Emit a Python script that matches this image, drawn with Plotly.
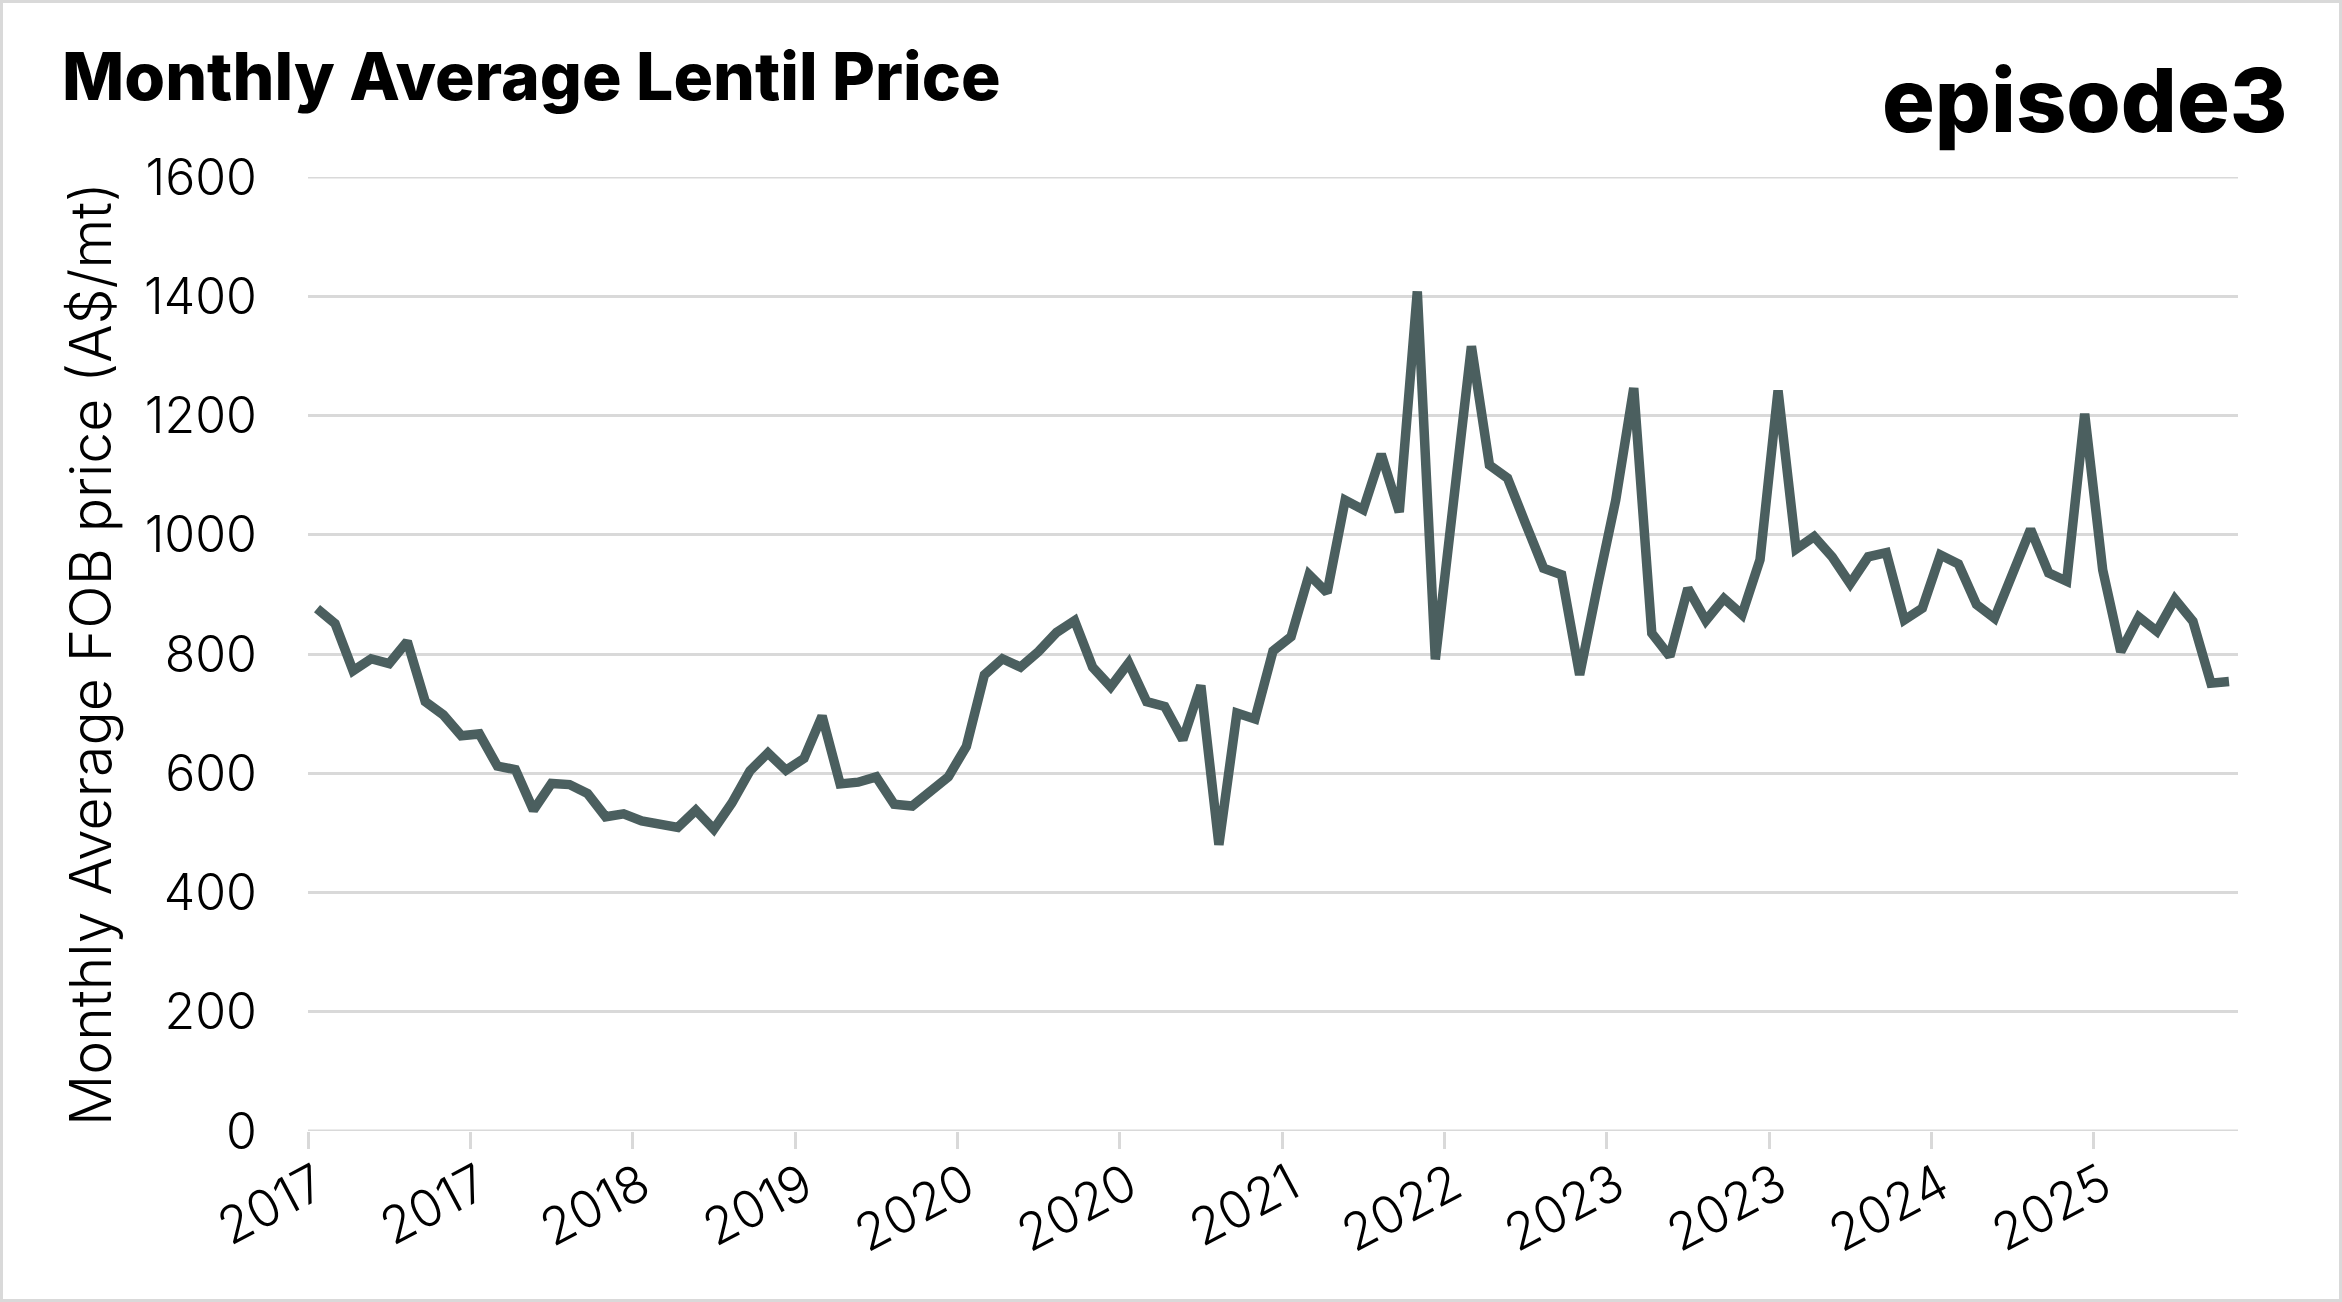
import plotly.graph_objects as go

# Monthly data, Jan 2017 .. Nov 2025 (107 months)
months = [f"{2017 + i // 12}-{i % 12 + 1:02d}" for i in range(107)]
prices = [
    876, 851, 772, 792, 784, 821, 720, 698, 663, 666, 612, 606,   # 2017
    538, 583, 581, 566, 527, 532, 520, 513, 509, 538, 506, 550,   # 2018
    604, 634, 605, 625, 696, 582, 585, 594, 548, 545, 568, 594,   # 2019
    645, 765, 792, 778, 804, 836, 856, 778, 745, 785, 720, 712,   # 2020
    656, 747, 480, 701, 691, 805, 829, 933, 903, 1058, 1042, 1135, # 2021
    1038, 1408, 791, 1053, 1316, 1117, 1095, 1019, 944, 933, 765, 915, # 2022
    1058, 1246, 835, 796, 910, 856, 893, 866, 958, 1242, 976, 997, # 2023
    963, 918, 963, 970, 857, 877, 966, 951, 883, 860, 936, 1009,  # 2024
    936, 922, 1203, 941, 804, 862, 838, 892, 855, 751, 754,       # 2025
]

tick_idx = [0, 9, 18, 27, 36, 45, 54, 63, 72, 81, 90, 99]
tick_labels = ["2017", "2017", "2018", "2019", "2020", "2020",
               "2021", "2022", "2023", "2023", "2024", "2025"]
y_ticks = [0, 200, 400, 600, 800, 1000, 1200, 1400, 1600]

x = list(range(len(prices)))

W, H = 2342, 1302
L, R, T, B = 308, 104, 177, 171
pw, ph = W - L - R, H - T - B

LINE = "#4b5f5f"
GRID = "#d9d9d9"
FONT = "Inter"

fig = go.Figure()
fig.add_trace(go.Scatter(
    x=x, y=prices, customdata=months, mode="lines",
    line=dict(color=LINE, width=9.5),
    hovertemplate="%{customdata}: %{y}<extra></extra>",
))

fig.update_layout(
    width=W, height=H,
    margin=dict(l=L, r=R, t=T, b=B),
    paper_bgcolor="white", plot_bgcolor="white",
    showlegend=False,
    font=dict(family=FONT, color="black", size=50, weight=300),
    title=dict(
        text="Monthly Average Lentil Price",
        font=dict(family=FONT, size=66, weight=800, color="black"),
        x=62 / W, xanchor="left", xref="container",
        y=1 - 77 / H, yanchor="middle", yref="container",
    ),
    xaxis=dict(
        range=[-0.5, len(prices) - 0.5],
        tickmode="array", tickvals=tick_idx, ticktext=tick_labels,
        tickangle=-28, ticks="", showgrid=False, zeroline=False,
        showline=False, ticklabelstandoff=14,
        tickfont=dict(family=FONT, size=51, weight=300, color="black"),
        minor=dict(tickmode="array", tickvals=[t - 0.5 for t in tick_idx],
                   ticks="outside", ticklen=17, tickwidth=3, tickcolor=GRID,
                   showgrid=False),
        fixedrange=True,
    ),
    yaxis=dict(
        range=[0, 1600], tickmode="array", tickvals=y_ticks,
        showgrid=True, gridcolor=GRID, gridwidth=3,
        zeroline=False, showline=False, ticks="",
        ticklabelstandoff=50,
        tickfont=dict(family=FONT, size=50, weight=300, color="black"),
        title=dict(text="Monthly Average FOB price (A$/mt)", standoff=14,
                   font=dict(family=FONT, size=57, weight=300, color="black")),
        fixedrange=True,
    ),
)

# axis baseline (category axis line) and top gridline
for yv in (y_ticks[0], y_ticks[-1]):
    fig.add_shape(type="line", xref="paper", yref="y", x0=0, x1=1, y0=yv, y1=yv,
                  line=dict(color=GRID, width=3), layer="below")

# logo text
fig.add_annotation(
    text="episode3", xref="paper", yref="paper",
    x=(2290 - L) / pw, y=(H - B - 100) / ph, xanchor="right", yanchor="middle",
    showarrow=False,
    font=dict(family=FONT, size=88, weight=800, color="black"),
)

# outer light-grey frame
fig.add_shape(type="rect", xref="paper", yref="paper",
              x0=-(L - 1.5) / pw, x1=(W - L - 1.5) / pw,
              y0=-(B - 1.5) / ph, y1=(H - B - 1.5) / ph,
              line=dict(color=GRID, width=3), fillcolor="rgba(0,0,0,0)",
              layer="below")

fig.write_html(
    "out.html",
    config={"displayModeBar": False},
    post_script="document.body.style.margin='0';document.body.style.overflow='hidden';",
)
